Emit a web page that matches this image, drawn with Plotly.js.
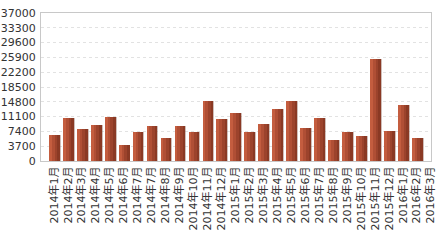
<!DOCTYPE html>
<html>
<head>
<meta charset="utf-8">
<script src="https://cdn.plot.ly/plotly-3.0.1.min.js"></script>
<style>html,body{margin:0;padding:0;background:#fff;}#chart{width:445px;height:240px;}</style>
</head>
<body>
<div id="chart"></div>
<script>
const months = ["2014年1月","2014年2月","2014年3月","2014年4月","2014年5月","2014年6月","2014年7月","2014年7月","2014年8月","2014年9月","2014年10月","2014年11月","2014年12月","2015年1月","2015年2月","2015年3月","2015年4月","2015年5月","2015年6月","2015年7月","2015年8月","2015年9月","2015年10月","2015年11月","2015年12月","2016年1月","2016年2月","2016年3月"];
const values = [6500,10800,8000,9000,11000,4000,7300,8800,5800,8800,7300,15000,10500,12000,7300,9300,13000,15000,8300,10800,5300,7300,6300,25500,7500,14000,5800,null];
const yTicks = [0,3700,7400,11100,14800,18500,22200,25900,29600,33300,37000];

const xIdx = months.map((m, i) => i);
const strips = [
  {off: -0.36, w: 0.2, c: "#c45d3f"},
  {off: -0.16, w: 0.2, c: "#b04f35"},
  {off: 0.04, w: 0.2, c: "#9c432c"},
  {off: 0.24, w: 0.17, c: "#8a3924"},
  {off: 0.41, w: 0.07, c: "rgba(150,110,100,0.45)"}
];
const traces = strips.map(s => ({
  type: "bar", x: xIdx, y: values, offset: s.off, width: s.w,
  marker: {color: s.c, line: {width: 0}}, hoverinfo: "skip", showlegend: false
}));

const layout = {
  width: 445, height: 240,
  margin: {l: 41, r: 14, t: 13, b: 79, pad: 0},
  paper_bgcolor: "#fff", plot_bgcolor: "#fff",
  barmode: "overlay", bargap: 0,
  showlegend: false,
  font: {family: "DejaVu Sans, Noto Sans CJK SC, sans-serif", color: "#333"},
  xaxis: {
    range: [-0.93, 27.01],
    tickmode: "array", tickvals: xIdx, ticktext: months,
    tickangle: -90, tickfont: {size: 11, color: "#333"},
    showgrid: false, zeroline: false,
    showline: true, mirror: true, linecolor: "#c8c8c8", linewidth: 1,
    ticks: "", fixedrange: true
  },
  yaxis: {
    range: [0, 37000],
    tickmode: "array", tickvals: yTicks, ticktext: yTicks.map(String),
    tickfont: {size: 11, color: "#333"},
    showgrid: true, gridcolor: "#e2e2e2", griddash: "3px,3px", gridwidth: 1,
    zeroline: false,
    showline: true, mirror: true, linecolor: "#c8c8c8", linewidth: 1,
    ticks: "", ticklabelstandoff: 2, fixedrange: true
  }
};
Plotly.newPlot("chart", traces, layout, {staticPlot: true, displayModeBar: false});
</script>
</body>
</html>
